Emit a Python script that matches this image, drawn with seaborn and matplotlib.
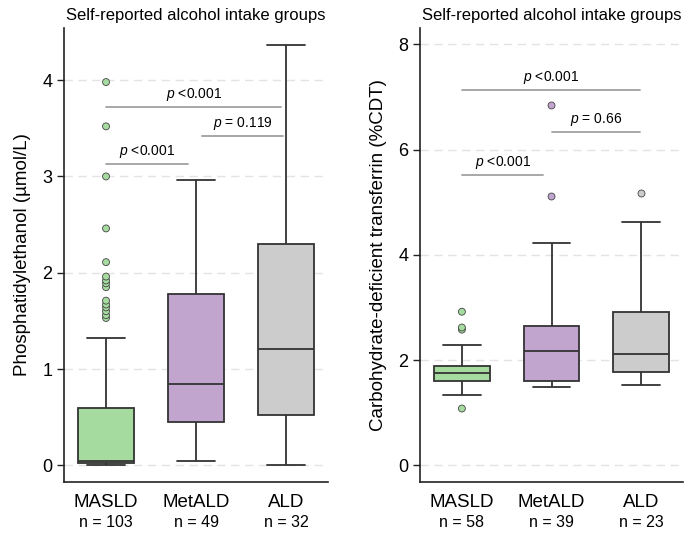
import pandas as pd
import seaborn as sns
import numpy as np
import matplotlib.pyplot as plt

# groups and colours
groups = ["MASLD", "MetALD", "ALD"]
n_peth = [103, 49, 32]
n_cdt = [58, 39, 23]
colors = ["#a6dba0", "#c2a5cf", "#cccccc"]

# PEth box summary (whisker low, q1, median, q3, whisker high)
peth_low = [0.0, 0.045, 0.0]
peth_q1 = [0.02, 0.45, 0.52]
peth_med = [0.045, 0.84, 1.21]
peth_q3 = [0.60, 1.78, 2.30]
peth_high = [1.32, 2.96, 4.37]
peth_out_masld = [1.53, 1.56, 1.60, 1.64, 1.67, 1.71, 1.85, 1.89, 1.92, 1.96,
                  2.11, 2.46, 3.00, 3.52, 3.98]
peth_out_metald = []
peth_out_ald = []

# CDT box summary
cdt_low = [1.33, 1.48, 1.53]
cdt_q1 = [1.61, 1.60, 1.78]
cdt_med = [1.75, 2.18, 2.12]
cdt_q3 = [1.89, 2.64, 2.92]
cdt_high = [2.29, 4.23, 4.63]
cdt_out_masld = [1.08, 2.58, 2.62, 2.92]
cdt_out_metald = [5.11, 6.84]
cdt_out_ald = [5.17]

# significance brackets: (x start, x end, y, label)
peth_pairs = [(0, 0.91, 3.125, "$p$ <0.001"),
              (0, 1.95, 3.72, "$p$ <0.001"),
              (1.07, 1.97, 3.42, "$p$ = 0.119")]
cdt_pairs = [(0, 0.91, 5.52, "$p$ <0.001"),
             (0, 1.99, 7.13, "$p$ <0.001"),
             (1.0, 1.99, 6.34, "$p$ = 0.66")]


def box_frame(low, q1, med, q3, high):
    rows = []
    for i, g in enumerate(groups):
        for v in (low[i], q1[i], med[i], q3[i], high[i]):
            rows.append((g, v))
    return pd.DataFrame(rows, columns=["group", "value"])


def out_frame(*outs):
    rows = [(g, v) for g, vals in zip(groups, outs) for v in vals]
    return pd.DataFrame(rows, columns=["group", "value"])


sns.set_style("ticks")
plt.rcParams['font.family'] = ['Liberation Sans', 'DejaVu Sans']
plt.rcParams['mathtext.fontset'] = 'custom'
plt.rcParams['mathtext.it'] = 'Liberation Sans:italic'
plt.rcParams['mathtext.rm'] = 'Liberation Sans'
for key in ['text.color', 'axes.labelcolor', 'xtick.color', 'ytick.color']:
    plt.rcParams[key] = 'black'

fig = plt.figure(figsize=(6.92, 5.38), dpi=100)
ax1 = fig.add_axes([0.0925, 0.1047, 0.3815, 0.843])
ax2 = fig.add_axes([0.607, 0.1047, 0.380, 0.843])
pal = dict(zip(groups, colors))


def draw_panel(ax, box_df, out_df, pairs, counts, ylim, yticks, ylabel):
    ax.set_axisbelow(True)
    ax.yaxis.grid(True, linestyle=(0, (6, 4)), color="#e3e3e3", linewidth=1)
    sns.boxplot(data=box_df, x="group", y="value", hue="group", order=groups,
                palette=pal, saturation=1, whis=np.inf, width=0.62,
                linecolor="#333333", linewidth=1.3, capwidths=0.42,
                legend=False, ax=ax)
    sns.stripplot(data=out_df, x="group", y="value", hue="group", order=groups,
                  palette=pal, jitter=False, size=5, edgecolor="#444444",
                  linewidth=0.6, legend=False, ax=ax, zorder=3)
    for x0, x1, y, lab in pairs:
        ax.plot([x0, x1], [y, y], color="#a0a0a0", linewidth=1.3)
        ax.annotate(lab, ((x0 + x1) / 2, y), xytext=(0, 3),
                    textcoords="offset points", ha="center", va="bottom",
                    fontsize=10)
    ax.set_xlim(-0.467, 2.467)
    ax.set_ylim(*ylim)
    ax.set_yticks(yticks)
    ax.set_xlabel("")
    ax.set_ylabel(ylabel, fontsize=13.5, labelpad=8)
    ax.set_title("Self-reported alcohol intake groups", fontsize=12)
    ax.tick_params(axis="y", labelsize=13, length=5, width=1, color="#222222")
    ax.tick_params(axis="x", labelsize=13.5, length=0, pad=9)
    for i, n in enumerate(counts):
        ax.text(i, -0.089, f"n = {n}", transform=ax.get_xaxis_transform(),
                ha="center", va="center", fontsize=11.5)
    for s in ["top", "right"]:
        ax.spines[s].set_visible(False)
    for s in ["left", "bottom"]:
        ax.spines[s].set_linewidth(1.2)
        ax.spines[s].set_color("#222222")


draw_panel(ax1, box_frame(peth_low, peth_q1, peth_med, peth_q3, peth_high),
           out_frame(peth_out_masld, peth_out_metald, peth_out_ald),
           peth_pairs, n_peth, (-0.17, 4.54), [0, 1, 2, 3, 4],
           "Phosphatidylethanol (µmol/L)")
draw_panel(ax2, box_frame(cdt_low, cdt_q1, cdt_med, cdt_q3, cdt_high),
           out_frame(cdt_out_masld, cdt_out_metald, cdt_out_ald),
           cdt_pairs, n_cdt, (-0.31, 8.31), [0, 2, 4, 6, 8],
           "Carbohydrate-deficient transferrin (%CDT)")

fig.savefig("out.png", dpi=100)
